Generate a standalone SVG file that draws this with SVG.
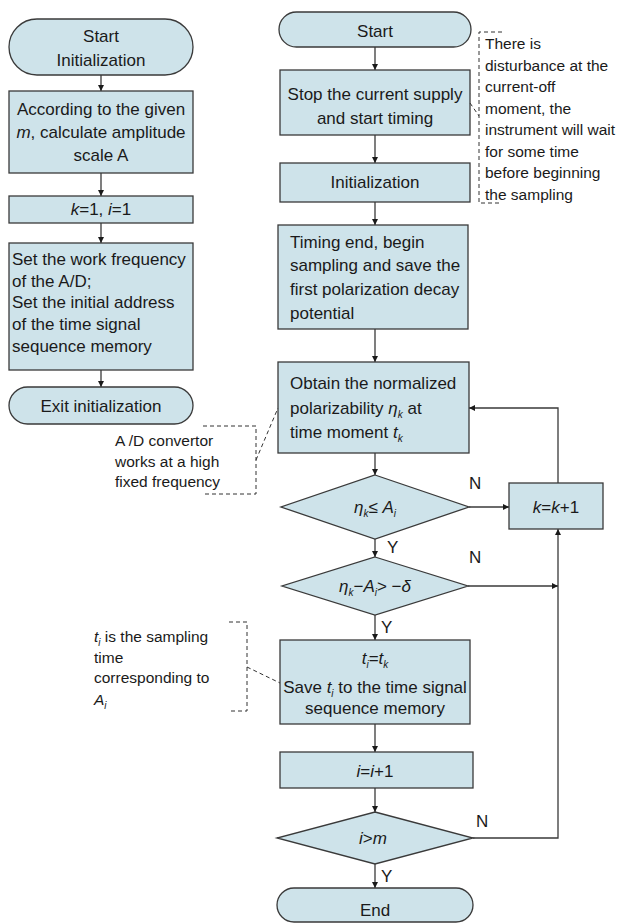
<svg xmlns="http://www.w3.org/2000/svg" width="631" height="923" viewBox="0 0 631 923">
<defs>
<style>
.n{fill:#cee3ea;stroke:#3a3a3a;stroke-width:1.3}
.t{font-family:"Liberation Sans",Arial,sans-serif;font-size:17px;fill:#1a1a1a}
.a{font-family:"Liberation Sans",Arial,sans-serif;font-size:15.5px;fill:#1a1a1a}
.c{text-anchor:middle}
.i{font-style:italic}
.s{font-style:italic;font-size:10px}
.l{fill:none;stroke:#3a3a3a;stroke-width:1.3}
.d{fill:none;stroke:#333;stroke-width:1;stroke-dasharray:4,3}
</style>
<marker id="ar" viewBox="0 0 10 10" refX="10" refY="5" markerWidth="6" markerHeight="6" orient="auto" markerUnits="userSpaceOnUse">
<path d="M0,0 L10,5 L0,10 z" fill="#1a1a1a"/>
</marker>
</defs>
<rect width="631" height="923" fill="#fff"/>

<g id="connectors">
<path class="l" d="M101,75 V91" marker-end="url(#ar)"/>
<path class="l" d="M101,173 V196" marker-end="url(#ar)"/>
<path class="l" d="M101,223 V243" marker-end="url(#ar)"/>
<path class="l" d="M101,370 V387" marker-end="url(#ar)"/>
<path class="l" d="M375,47 V70" marker-end="url(#ar)"/>
<path class="l" d="M375,135 V163" marker-end="url(#ar)"/>
<path class="l" d="M375,202 V225" marker-end="url(#ar)"/>
<path class="l" d="M375,329 V362" marker-end="url(#ar)"/>
<path class="l" d="M375,453 V475" marker-end="url(#ar)"/>
<path class="l" d="M469,507 H509" marker-end="url(#ar)"/>
<path class="l" d="M558,483 V408 H469" marker-end="url(#ar)"/>
<path class="l" d="M375,539 V557" marker-end="url(#ar)"/>
<path class="l" d="M468,586 H558" marker-end="url(#ar)"/>
<path class="l" d="M375,615 V640" marker-end="url(#ar)"/>
<path class="l" d="M375,724 V752" marker-end="url(#ar)"/>
<path class="l" d="M375,788 V812" marker-end="url(#ar)"/>
<path class="l" d="M473,838 H558 V529" marker-end="url(#ar)"/>
<path class="l" d="M375,864 V888" marker-end="url(#ar)"/>
<text class="t" x="469" y="489">N</text>
<text class="t" x="387" y="553">Y</text>
<text class="t" x="469" y="563">N</text>
<text class="t" x="381" y="633">Y</text>
<text class="t" x="476" y="827">N</text>
<text class="t" x="381" y="882">Y</text>
</g>

<g id="start-init">
<rect class="n" x="9" y="19" width="184" height="56" rx="28"/>
<text class="t c" x="101" y="42">Start</text>
<text class="t c" x="101" y="66">Initialization</text>
</g>
<g id="calc-amplitude">
<rect class="n" x="9" y="91" width="184" height="82"/>
<text class="t c" x="101" y="115">According to the given</text>
<text class="t c" x="101" y="138"><tspan class="i">m</tspan>, calculate amplitude</text>
<text class="t c" x="101" y="161">scale A</text>
</g>
<g id="k1i1">
<rect class="n" x="9" y="196" width="184" height="27"/>
<text class="t c" x="101" y="215"><tspan class="i">k</tspan>=1, <tspan class="i">i</tspan>=1</text>
</g>
<g id="set-freq">
<rect class="n" x="9" y="243" width="184" height="127"/>
<text class="t" x="12" y="265">Set the work frequency</text>
<text class="t" x="12" y="287">of the A/D;</text>
<text class="t" x="12" y="308">Set the initial address</text>
<text class="t" x="12" y="330">of the time signal</text>
<text class="t" x="12" y="352">sequence memory</text>
</g>
<g id="exit-init">
<rect class="n" x="9" y="387" width="184" height="37" rx="18.5"/>
<text class="t c" x="101" y="412">Exit initialization</text>
</g>

<g id="start">
<rect class="n" x="279" y="12" width="192" height="35" rx="17.5"/>
<text class="t c" x="375" y="37">Start</text>
</g>
<g id="stop-supply">
<rect class="n" x="280" y="70" width="190" height="65"/>
<text class="t c" x="375" y="100">Stop the current supply</text>
<text class="t c" x="375" y="124">and start timing</text>
</g>
<g id="initialization">
<rect class="n" x="280" y="163" width="190" height="39"/>
<text class="t c" x="375" y="188">Initialization</text>
</g>
<g id="timing-end">
<rect class="n" x="278" y="225" width="190" height="104"/>
<text class="t" x="290" y="248">Timing end, begin</text>
<text class="t" x="290" y="271">sampling and save the</text>
<text class="t" x="290" y="295">first polarization decay</text>
<text class="t" x="290" y="319">potential</text>
</g>
<g id="obtain">
<rect class="n" x="278" y="362" width="191" height="91"/>
<text class="t" x="290" y="389">Obtain the normalized</text>
<text class="t" x="290" y="414">polarizability <tspan class="i">η</tspan><tspan class="s" dy="4">k</tspan><tspan dy="-4"> at</tspan></text>
<text class="t" x="290" y="438">time moment <tspan class="i">t</tspan><tspan class="s" dy="4">k</tspan></text>
</g>
<g id="dec1">
<polygon class="n" points="375,475 469,507 375,539 281,507"/>
<text class="t c" x="375" y="513"><tspan class="i">η</tspan><tspan class="s" dy="4">k</tspan><tspan dy="-4">≤ </tspan><tspan class="i">A</tspan><tspan class="s" dy="4">i</tspan></text>
</g>
<g id="kk1">
<rect class="n" x="509" y="483" width="94" height="46"/>
<text class="t c" x="556" y="513"><tspan class="i">k</tspan>=<tspan class="i">k</tspan>+1</text>
</g>
<g id="dec2">
<polygon class="n" points="375,557 468,586 375,615 282,586"/>
<text class="t c" x="375" y="592"><tspan class="i">η</tspan><tspan class="s" dy="4">k</tspan><tspan dy="-4">−</tspan><tspan class="i">A</tspan><tspan class="s" dy="4">i</tspan><tspan dy="-4">&gt; −</tspan><tspan class="i">δ</tspan></text>
</g>
<g id="save-ti">
<rect class="n" x="280" y="640" width="190" height="84"/>
<text class="t c" x="375" y="664"><tspan class="i">t</tspan><tspan class="s" dy="4">i</tspan><tspan dy="-4">=</tspan><tspan class="i">t</tspan><tspan class="s" dy="4">k</tspan></text>
<text class="t c" x="375" y="693">Save <tspan class="i">t</tspan><tspan class="s" dy="4">i</tspan><tspan dy="-4"> to the time signal</tspan></text>
<text class="t c" x="375" y="714">sequence memory</text>
</g>
<g id="ii1">
<rect class="n" x="280" y="752" width="193" height="36"/>
<text class="t c" x="375" y="777"><tspan class="i">i</tspan>=<tspan class="i">i</tspan>+1</text>
</g>
<g id="dec3">
<polygon class="n" points="375,812 473,838 375,864 277,838"/>
<text class="t c" x="373" y="844"><tspan class="i">i</tspan>&gt;<tspan class="i">m</tspan></text>
</g>
<g id="end">
<rect class="n" x="277" y="888" width="196" height="34" rx="17"/>
<text class="t c" x="375" y="916">End</text>
</g>

<g id="note-disturbance">
<path class="d" d="M502,32 H479 V203 H502"/>
<path class="d" d="M470,103 L479,116"/>
<text class="a" x="485" y="49">There is</text>
<text class="a" x="485" y="70.5">disturbance at the</text>
<text class="a" x="485" y="92">current-off</text>
<text class="a" x="485" y="113.5">moment, the</text>
<text class="a" x="485" y="135">instrument will wait</text>
<text class="a" x="485" y="156.5">for some time</text>
<text class="a" x="485" y="178">before beginning</text>
<text class="a" x="485" y="199.5">the sampling</text>
</g>
<g id="note-ad">
<path class="d" d="M203,426 H256 V494 H203"/>
<path class="d" d="M256,460 L278,408"/>
<text class="a" x="115" y="446">A /D convertor</text>
<text class="a" x="115" y="467">works at a high</text>
<text class="a" x="115" y="487">fixed frequency</text>
</g>
<g id="note-ti">
<path class="d" d="M229,622 H247 V711 H229"/>
<path class="d" d="M247,667 L280,683"/>
<text class="a" x="94" y="642"><tspan class="i">t</tspan><tspan class="s" dy="4">i</tspan><tspan dy="-4"> is the sampling</tspan></text>
<text class="a" x="94" y="663">time</text>
<text class="a" x="94" y="683">corresponding to</text>
<text class="a" x="94" y="705"><tspan class="i">A</tspan><tspan class="s" dy="4">i</tspan></text>
</g>
</svg>
